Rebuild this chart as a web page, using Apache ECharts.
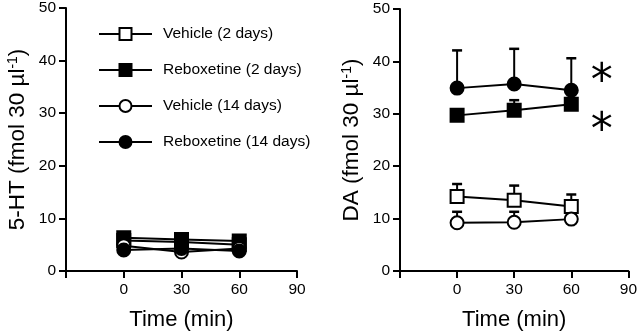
<!DOCTYPE html>
<html><head><meta charset="utf-8">
<script src="https://cdn.jsdelivr.net/npm/echarts@6/dist/echarts.min.js"></script>
<style>html,body{margin:0;padding:0;background:#fff}#c{width:640px;height:336px}</style>
</head><body><div id="c"></div>
<script>
const times = [0, 30, 60];
const names = ['Vehicle (2 days)', 'Reboxetine (2 days)', 'Vehicle (14 days)', 'Reboxetine (14 days)'];
// 5-HT panel (means)
const ht_veh2 = [5.8, 5.5, 5.0];
const ht_rbx2 = [6.3, 6.0, 5.7];
const ht_veh14 = [4.8, 3.6, 4.3];
const ht_rbx14 = [4.0, 4.3, 3.8];
// DA panel (means and SEM upper bars)
const da_veh2 = [14.2, 13.5, 12.3];
const da_veh2_err = [2.4, 2.8, 2.3];
const da_rbx2 = [29.7, 30.7, 31.8];
const da_rbx2_err = [0.8, 1.9, 1.2];
const da_veh14 = [9.2, 9.3, 9.9];
const da_veh14_err = [2.1, 2.0, 0.8];
const da_rbx14 = [34.9, 35.7, 34.5];
const da_rbx14_err = [7.2, 6.7, 6.1];
const asteriskPos = [[76, 37.6], [76, 28.3]];

const FONT = 'Liberation Sans, Arial, Helvetica, sans-serif';
const styles = [
  {symbol: 'rect', fill: '#fff'},
  {symbol: 'rect', fill: '#000'},
  {symbol: 'circle', fill: '#fff'},
  {symbol: 'circle', fill: '#000'}
];
const pairs = v => times.map((t, i) => [t, v[i]]);

function lineSeries(idx, gi, vals, extra) {
  const s = styles[idx];
  return Object.assign({
    type: 'line', name: names[idx], xAxisIndex: gi, yAxisIndex: gi,
    data: pairs(vals), symbol: s.symbol, symbolSize: 13,
    lineStyle: {color: '#000', width: 2},
    itemStyle: {color: s.fill, borderColor: '#000', borderWidth: 2},
    z: 5 + idx, animation: false
  }, extra || {});
}
function errSeries(gi, vals, errs) {
  return {
    type: 'custom', xAxisIndex: gi, yAxisIndex: gi, z: 2, animation: false,
    data: times.map((t, i) => [t, vals[i], errs[i]]),
    renderItem: (params, api) => {
      const p0 = api.coord([api.value(0), api.value(1)]);
      const p1 = api.coord([api.value(0), api.value(1) + api.value(2)]);
      return {type: 'group', children: [
        {type: 'line', shape: {x1: p0[0], y1: p0[1], x2: p1[0], y2: p1[1]}, style: {stroke: '#000', lineWidth: 2}},
        {type: 'line', shape: {x1: p1[0] - 5, y1: p1[1], x2: p1[0] + 5, y2: p1[1]}, style: {stroke: '#000', lineWidth: 2.5}}
      ]};
    }
  };
}
function xAxis(gi) {
  return {
    type: 'value', gridIndex: gi, min: -30, max: 90, interval: 30,
    name: 'Time (min)', nameLocation: 'middle', nameGap: 38,
    nameTextStyle: {fontSize: 22, color: '#000', fontFamily: FONT},
    axisLine: {onZero: false, lineStyle: {color: '#000', width: 2}},
    axisTick: {length: 7, lineStyle: {color: '#000', width: 2}},
    axisLabel: {margin: 11, fontSize: 15.5, color: '#000', fontFamily: FONT, formatter: v => v < 0 ? '' : String(v)},
    splitLine: {show: false}
  };
}
function yAxis(gi, label) {
  return {
    type: 'value', gridIndex: gi, min: 0, max: 50, interval: 10,
    name: '{n|' + label + ' (fmol 30 µl}{s|-1}{n|)}', nameLocation: 'middle', nameGap: 36,
    nameTextStyle: {color: '#000', fontFamily: FONT, rich: {
      n: {fontSize: 22.5, color: '#000', fontFamily: FONT},
      s: {fontSize: 14, color: '#000', fontFamily: FONT, verticalAlign: 'top', padding: [0, 0, 10, 0]}
    }},
    axisLine: {show: true, onZero: false, lineStyle: {color: '#000', width: 2}},
    axisTick: {show: true, length: 7, lineStyle: {color: '#000', width: 2}},
    axisLabel: {margin: 10, fontSize: 15.5, color: '#000', fontFamily: FONT},
    splitLine: {show: false}
  };
}

const chart = echarts.init(document.getElementById('c'), null, {renderer: 'canvas'});
chart.setOption({
  backgroundColor: '#fff',
  animation: false,
  textStyle: {fontFamily: FONT},
  grid: [
    {left: 66, right: 343, top: 8, bottom: 65},
    {left: 400, right: 8, top: 9, bottom: 63}
  ],
  legend: {
    orient: 'vertical', left: 93, top: 21, itemWidth: 53, itemHeight: 15, itemGap: 20,
    data: names,
    textStyle: {fontSize: 15.5, color: '#000', fontFamily: FONT, padding: [0, 0, 0, 6]}
  },
  xAxis: [xAxis(0), xAxis(1)],
  yAxis: [yAxis(0, '5-HT'), yAxis(1, 'DA')],
  series: [
    lineSeries(3, 0, ht_rbx14),
    lineSeries(2, 0, ht_veh14),
    lineSeries(1, 0, ht_rbx2),
    lineSeries(0, 0, ht_veh2),
    errSeries(1, da_veh2, da_veh2_err),
    errSeries(1, da_rbx2, da_rbx2_err),
    errSeries(1, da_veh14, da_veh14_err),
    errSeries(1, da_rbx14, da_rbx14_err),
    lineSeries(0, 1, da_veh2),
    lineSeries(1, 1, da_rbx2, {markPoint: {
      symbol: 'circle', symbolSize: 1, itemStyle: {color: 'rgba(0,0,0,0)'},
      label: {show: true, formatter: '*', fontSize: 44, color: '#000', fontFamily: 'DejaVu Sans', offset: [0, 10]},
      data: asteriskPos.map(c => ({coord: c}))
    }}),
    lineSeries(2, 1, da_veh14),
    lineSeries(3, 1, da_rbx14)
  ]
});
</script></body></html>
